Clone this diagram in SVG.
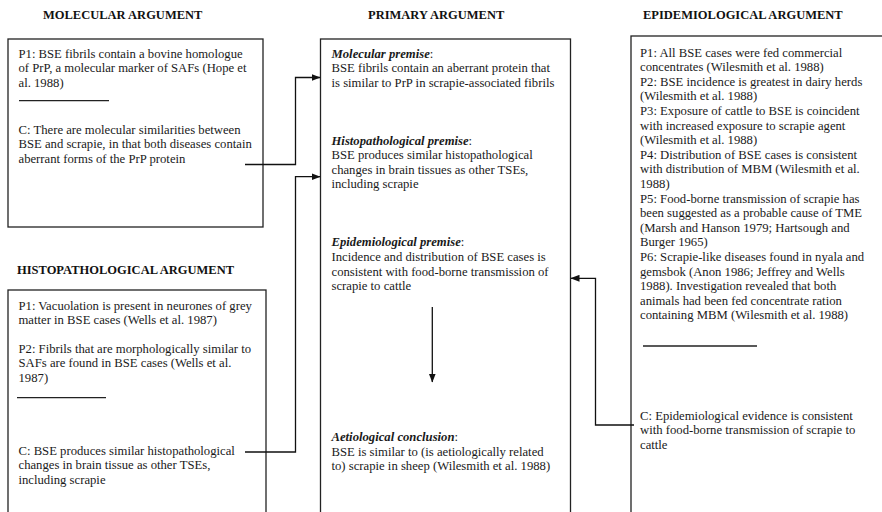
<svg xmlns="http://www.w3.org/2000/svg" width="882" height="512" viewBox="0 0 882 512">
<defs>
<marker id="ah" markerWidth="9" markerHeight="7" refX="8.5" refY="3.5" orient="auto" markerUnits="userSpaceOnUse">
<path d="M0,0 L9,3.5 L0,7 Z" fill="#111"/>
</marker>
<style>
.t{font-family:"Liberation Serif","Times New Roman",serif;font-size:12.7px;fill:#1a1a1a}
.h{font-family:"Liberation Serif","Times New Roman",serif;font-size:12.5px;font-weight:bold;fill:#111}
.bi{font-weight:bold;font-style:italic}
.box{fill:#fff;stroke:#222;stroke-width:1.3}
.sep{stroke:#222;stroke-width:1.3}
.c{fill:none;stroke:#111;stroke-width:1.3}
</style>
</defs>
<rect width="882" height="512" fill="#fff"/>

<g id="molecular">
<text class="h" x="43" y="19">MOLECULAR ARGUMENT</text>
<rect class="box" x="8" y="39" width="255" height="188"/>
<text class="t"><tspan x="18.5" y="57.5">P1: BSE fibrils contain a bovine homologue</tspan><tspan x="18.5" y="72.1">of PrP, a molecular marker of SAFs (Hope et</tspan><tspan x="18.5" y="86.7">al. 1988)</tspan></text>
<line class="sep" x1="19" y1="100.7" x2="109" y2="100.7"/>
<text class="t"><tspan x="18.5" y="133.5">C: There are molecular similarities between</tspan><tspan x="18.5" y="148.1">BSE and scrapie, in that both diseases contain</tspan><tspan x="18.5" y="162.7">aberrant forms of the PrP protein</tspan></text>
</g>

<g id="histopathological">
<text class="h" x="17" y="274">HISTOPATHOLOGICAL ARGUMENT</text>
<rect class="box" x="8" y="290" width="258" height="240"/>
<text class="t"><tspan x="18.5" y="309.5">P1: Vacuolation is present in neurones of grey</tspan><tspan x="18.5" y="324.1">matter in BSE cases (Wells et al. 1987)</tspan></text>
<text class="t"><tspan x="18.5" y="352.7">P2: Fibrils that are morphologically similar to</tspan><tspan x="18.5" y="367.3">SAFs are found in BSE cases (Wells et al.</tspan><tspan x="18.5" y="381.9">1987)</tspan></text>
<line class="sep" x1="17" y1="397.7" x2="106" y2="397.7"/>
<text class="t"><tspan x="18.5" y="454.5">C: BSE produces similar histopathological</tspan><tspan x="18.5" y="469.1">changes in brain tissue as other TSEs,</tspan><tspan x="18.5" y="483.7">including scrapie</tspan></text>
</g>

<g id="primary">
<text class="h" x="368" y="19">PRIMARY ARGUMENT</text>
<rect class="box" x="320.5" y="39" width="250" height="490"/>
<text class="t"><tspan x="331.5" y="57.5" class="bi">Molecular premise</tspan><tspan>:</tspan><tspan x="331.5" y="72.1">BSE fibrils contain an aberrant protein that</tspan><tspan x="331.5" y="86.7">is similar to PrP in scrapie-associated fibrils</tspan></text>
<text class="t"><tspan x="331.5" y="144.5" class="bi">Histopathological premise</tspan><tspan>:</tspan><tspan x="331.5" y="159.1">BSE produces similar histopathological</tspan><tspan x="331.5" y="173.7">changes in brain tissues as other TSEs,</tspan><tspan x="331.5" y="188.3">including scrapie</tspan></text>
<text class="t"><tspan x="331.5" y="246.3" class="bi">Epidemiological premise</tspan><tspan>:</tspan><tspan x="331.5" y="260.9">Incidence and distribution of BSE cases is</tspan><tspan x="331.5" y="275.5">consistent with food-borne transmission of</tspan><tspan x="331.5" y="290.1">scrapie to cattle</tspan></text>
<text class="t"><tspan x="331.5" y="441" class="bi">Aetiological conclusion</tspan><tspan>:</tspan><tspan x="331.5" y="455.6">BSE is similar to (is aetiologically related</tspan><tspan x="331.5" y="470.2">to) scrapie in sheep (Wilesmith et al. 1988)</tspan></text>
</g>

<g id="epidemiological">
<text class="h" x="643" y="19">EPIDEMIOLOGICAL ARGUMENT</text>
<rect class="box" x="631" y="36" width="270" height="494"/>
<text class="t"><tspan x="640" y="56.5">P1: All BSE cases were fed commercial</tspan><tspan x="640" y="71.1">concentrates (Wilesmith et al. 1988)</tspan><tspan x="640" y="85.7">P2: BSE incidence is greatest in dairy herds</tspan><tspan x="640" y="100.3">(Wilesmith et al. 1988)</tspan><tspan x="640" y="114.9">P3: Exposure of cattle to BSE is coincident</tspan><tspan x="640" y="129.5">with increased exposure to scrapie agent</tspan><tspan x="640" y="144.1">(Wilesmith et al. 1988)</tspan><tspan x="640" y="158.7">P4: Distribution of BSE cases is consistent</tspan><tspan x="640" y="173.3">with distribution of MBM (Wilesmith et al.</tspan><tspan x="640" y="187.9">1988)</tspan><tspan x="640" y="202.5">P5: Food-borne transmission of scrapie has</tspan><tspan x="640" y="217.1">been suggested as a probable cause of TME</tspan><tspan x="640" y="231.7">(Marsh and Hanson 1979; Hartsough and</tspan><tspan x="640" y="246.3">Burger 1965)</tspan><tspan x="640" y="260.9">P6: Scrapie-like diseases found in nyala and</tspan><tspan x="640" y="275.5">gemsbok (Anon 1986; Jeffrey and Wells</tspan><tspan x="640" y="290.1">1988). Investigation revealed that both</tspan><tspan x="640" y="304.7">animals had been fed concentrate ration</tspan><tspan x="640" y="319.3">containing MBM (Wilesmith et al. 1988)</tspan></text>
<line class="sep" x1="643" y1="346" x2="757" y2="346"/>
<text class="t"><tspan x="640" y="419.5">C: Epidemiological evidence is consistent</tspan><tspan x="640" y="434.1">with food-borne transmission of scrapie to</tspan><tspan x="640" y="448.7">cattle</tspan></text>
</g>

<g id="connectors">
<polyline class="c" points="245,164.5 295.5,164.5 295.5,77.5 320,77.5" marker-end="url(#ah)"/>
<polyline class="c" points="245,452 295.5,452 295.5,176.7 320,176.7" marker-end="url(#ah)"/>
<polyline class="c" points="634,425 595.5,425 595.5,278.3 571,278.3" marker-end="url(#ah)"/>
<line class="c" x1="432.3" y1="307" x2="432.3" y2="382" marker-end="url(#ah)"/>
</g>
</svg>
